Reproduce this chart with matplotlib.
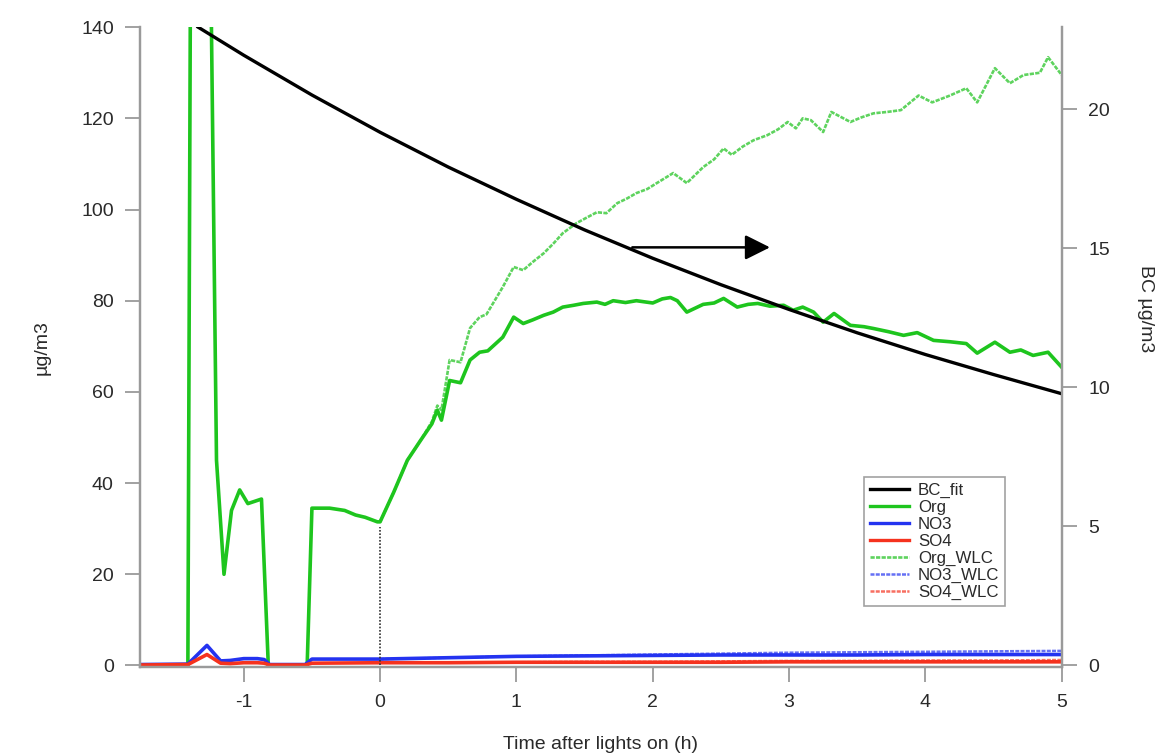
import matplotlib
matplotlib.use("Agg")
import matplotlib.pyplot as plt
from matplotlib.lines import Line2D

plt.rcParams['font.family'] = ['Liberation Sans', 'DejaVu Sans']
plt.rcParams['axes.unicode_minus'] = False

# ---------------- data ----------------
org_t = [-1.76, -1.41, -1.39, -1.245, -1.20, -1.145, -1.09, -1.03, -0.97, -0.87, -0.82,
         -0.535, -0.50, -0.37, -0.26, -0.18, -0.11, -0.02,
         0.00, 0.10, 0.20, 0.30, 0.38, 0.42, 0.45, 0.51, 0.59, 0.66, 0.73, 0.79, 0.90,
         0.98, 1.05, 1.12, 1.20, 1.27, 1.34, 1.42, 1.49, 1.59, 1.65, 1.71, 1.80, 1.88,
         2.00, 2.07, 2.13, 2.18, 2.25, 2.37, 2.45, 2.52, 2.62, 2.70, 2.77, 2.86, 2.96,
         3.03, 3.10, 3.18, 3.25, 3.33, 3.45, 3.55, 3.62, 3.73, 3.84, 3.94, 4.06, 4.18,
         4.30, 4.38, 4.51, 4.62, 4.70, 4.79, 4.90, 5.00]
org_v = [0, 0, 160, 160, 45, 20, 34, 38.5, 35.5, 36.5, 0,
         0, 34.5, 34.5, 34, 33, 32.5, 31.5,
         31.5, 38, 45, 49.5, 53, 56, 53.8, 62.5, 62, 67, 68.7, 69, 72,
         76.4, 75, 75.8, 76.8, 77.5, 78.6, 79, 79.4, 79.7, 79.2, 80, 79.6, 80,
         79.5, 80.4, 80.7, 80, 77.5, 79.2, 79.5, 80.5, 78.6, 79.2, 79.4, 78.8, 79,
         77.9, 78.6, 77.5, 75.3, 77.2, 74.6, 74.3, 73.9, 73.2, 72.4, 73, 71.3, 71,
         70.6, 68.5, 70.9, 68.7, 69.2, 68, 68.7, 65.4]

org_wlc_t = [0.00, 0.10, 0.20, 0.30, 0.38, 0.42, 0.45, 0.51, 0.59, 0.66, 0.73, 0.78,
             0.90, 0.98, 1.05, 1.12, 1.20, 1.27, 1.34, 1.44, 1.52, 1.59, 1.66, 1.74,
             1.81, 1.88, 1.96, 2.03, 2.15, 2.25, 2.37, 2.45, 2.52, 2.58, 2.66, 2.74,
             2.84, 2.92, 2.99, 3.05, 3.10, 3.16, 3.25, 3.31, 3.38, 3.45, 3.53, 3.62,
             3.72, 3.82, 3.95, 4.05, 4.18, 4.30, 4.38, 4.51, 4.62, 4.72, 4.84, 4.90, 5.00]
org_wlc_v = [31.5, 38, 45, 49.5, 53.5, 57, 56, 67, 66.5, 74, 76.4, 77,
             83, 87.4, 86.7, 88.5, 90.4, 92.5, 94.8, 97, 98.3, 99.4, 99.2, 101.4,
             102.4, 103.6, 104.5, 105.8, 108, 105.8, 109.3, 111, 113.4, 112, 113.8, 115.2,
             116.3, 117.6, 119.2, 117.8, 120, 119.6, 117, 121.4, 120.3, 119.2, 120.2, 121.1,
             121.4, 121.8, 125, 123.5, 125, 126.6, 123.5, 131, 127.7, 129.5, 130, 133.4, 129.5]

ion_t = [-1.76, -1.41, -1.27, -1.17, -1.10, -1.00, -0.90, -0.85, -0.81, -0.55, -0.50,
         0.0, 0.5, 1.0, 1.5, 2.0, 2.5, 3.0, 3.5, 4.0, 4.5, 5.0]
no3_v = [0.2, 0.3, 4.4, 1.0, 1.1, 1.5, 1.5, 1.3, 0.2, 0.2, 1.4,
         1.4, 1.7, 2.0, 2.1, 2.2, 2.3, 2.3, 2.3, 2.4, 2.4, 2.4]
so4_v = [0.1, 0.2, 2.4, 0.5, 0.4, 0.6, 0.6, 0.5, 0.1, 0.1, 0.5,
         0.6, 0.6, 0.7, 0.7, 0.7, 0.7, 0.8, 0.8, 0.8, 0.8, 0.8]

wlc_t = [0.0, 0.5, 1.0, 1.5, 2.0, 2.5, 3.0, 3.5, 4.0, 4.5, 5.0]
no3_wlc_v = [1.4, 1.7, 2.0, 2.2, 2.4, 2.6, 2.8, 2.9, 3.0, 3.1, 3.2]
so4_wlc_v = [0.6, 0.6, 0.7, 0.8, 0.8, 0.9, 1.0, 1.0, 1.1, 1.1, 1.2]

bc_t = [-1.335, -1.0, -0.5, 0.0, 0.5, 1.0, 1.5, 2.0, 2.5, 3.0, 3.5, 4.0, 4.5, 5.0]
bc_v = [22.95, 21.94, 20.51, 19.17, 17.92, 16.76, 15.66, 14.64, 13.69, 12.80,
        11.96, 11.18, 10.46, 9.77]

x_ticks = [-1, 0, 1, 2, 3, 4, 5]
left_ticks = [0, 20, 40, 60, 80, 100, 120, 140]
right_ticks = [0, 5, 10, 15, 20]

# ---------------- styling ----------------
GREEN = '#1ec51e'
GREEN_L = '#5ed35e'
BLUE = '#2433f0'
RED = '#f5321e'
SPINE = '#9a9a9a'
TXT = '#2a2a2a'
DOT = (0, (1.6, 0.5))

fig = plt.figure(figsize=(11.68, 7.54), dpi=100)
ax = fig.add_axes([0.12, 0.115, 0.789, 0.849])
ax2 = ax.twinx()

ax.plot(org_wlc_t, org_wlc_v, color=GREEN_L, lw=1.9, ls=DOT)
ax.plot(org_t, org_v, color=GREEN, lw=2.6, solid_joinstyle='round')
ax.plot(wlc_t, no3_wlc_v, color=BLUE, lw=1.8, ls=DOT, alpha=0.7)
ax.plot(wlc_t, so4_wlc_v, color=RED, lw=1.8, ls=DOT, alpha=0.7)
ax.plot(ion_t, no3_v, color=BLUE, lw=2.6)
ax.plot(ion_t, so4_v, color=RED, lw=2.6)
ax.vlines(0, 0, 30.3, colors='#333333', linestyles=(0, (1, 1)), lw=1.2)

ax2.plot(bc_t, bc_v, color='black', lw=2.4)

ax.annotate('', xy=(2.86, 91.7), xytext=(1.85, 91.7),
            arrowprops=dict(arrowstyle='-|>', color='black', lw=1.8,
                            mutation_scale=38, shrinkA=0, shrinkB=0))

ax.set_xlim(-1.76, 5.0)
ax.set_ylim(-0.4, 140)
ax2.set_ylim(-0.4 * 22.95 / 140, 22.95)

ax.set_xticks(x_ticks)
ax.set_yticks(left_ticks)
ax2.set_yticks(right_ticks)

for a in (ax, ax2):
    a.spines['top'].set_visible(False)
    for s in ('left', 'right', 'bottom'):
        a.spines[s].set_color(SPINE)
        a.spines[s].set_linewidth(1.6)
    a.tick_params(axis='both', which='major', direction='out', length=11,
                  width=1.3, color=SPINE, labelsize=14, labelcolor=TXT, pad=8)

ax.set_xlabel('Time after lights on (h)', fontsize=14, color=TXT, labelpad=18)
ax.set_ylabel('µg/m3', fontsize=14, color=TXT, labelpad=22)
ax2.set_ylabel('BC µg/m3', fontsize=14, color=TXT, rotation=270)
ax2.yaxis.set_label_coords(1.1, 0.56)

handles = [
    Line2D([], [], color='black', lw=2.4),
    Line2D([], [], color=GREEN, lw=2.4),
    Line2D([], [], color=BLUE, lw=2.4),
    Line2D([], [], color=RED, lw=2.4),
    Line2D([], [], color=GREEN_L, lw=1.9, ls=DOT),
    Line2D([], [], color=BLUE, lw=1.8, ls=DOT, alpha=0.7),
    Line2D([], [], color=RED, lw=1.8, ls=DOT, alpha=0.7),
]
labels = ['BC_fit', 'Org', 'NO3', 'SO4', 'Org_WLC', 'NO3_WLC', 'SO4_WLC']
leg = ax2.legend(handles, labels, loc='upper left', bbox_to_anchor=(0.786, 0.298),
                 fontsize=12.2, frameon=True, fancybox=False, handlelength=2.3,
                 handletextpad=0.5, labelspacing=0.12, borderpad=0.35,
                 borderaxespad=0)
leg.get_frame().set_edgecolor('#8a8a8a')
leg.get_frame().set_linewidth(1.2)
for t in leg.get_texts():
    t.set_color(TXT)

fig.savefig('out.png', dpi=100)
